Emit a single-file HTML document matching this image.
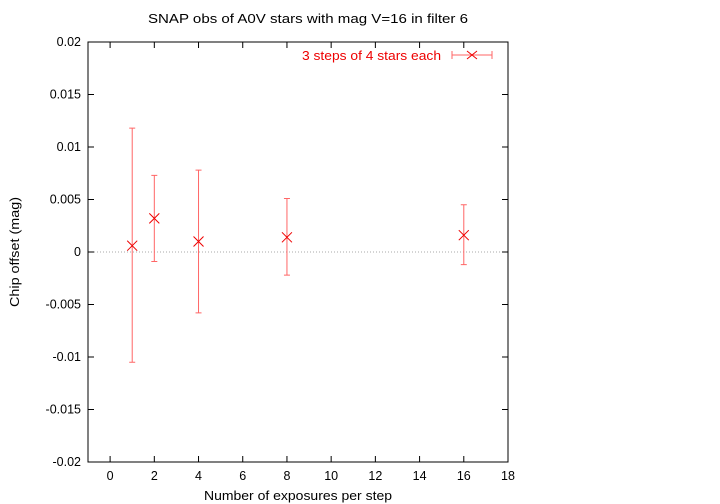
<!DOCTYPE html>
<html><head><meta charset="utf-8"><style>body{margin:0;background:#fff}svg{display:block;font-family:"Liberation Sans",sans-serif}</style></head>
<body>
<svg id="c" width="720" height="504">
<text x="308" y="23" font-size="12.5" text-anchor="middle" textLength="320" lengthAdjust="spacingAndGlyphs">SNAP obs of A0V stars with mag V=16 in filter 6</text>
<text x="298" y="500" font-size="12.5" text-anchor="middle" textLength="188" lengthAdjust="spacingAndGlyphs">Number of exposures per step</text>
<text transform="translate(19,252) rotate(-90)" font-size="12.5" text-anchor="middle" textLength="110" lengthAdjust="spacingAndGlyphs">Chip offset (mag)</text>
<g id="axes"></g><g id="marks"></g>
<rect x="88" y="42" width="420" height="420" fill="none" stroke="#000"/>
<g>
<text x="441" y="60" font-size="12.5" fill="#e00" text-anchor="end" textLength="139" lengthAdjust="spacingAndGlyphs">3 steps of 4 stars each</text>
<path d="M452 55H492M452 51V59M492 51V59" stroke="#f66" fill="none"/>
<path d="M467 51L477 59M467 59L477 51" stroke="#e00" fill="none"/>
</g>
</svg>
<script>
const xs=[1,2,4,8,16];
const ys=[0.0006,0.0032,0.001,0.0014,0.0016];
const yHi=[0.0118,0.0073,0.0078,0.0051,0.0045];
const yLo=[-0.0105,-0.0009,-0.0058,-0.0022,-0.0012];
const xTicks=[0,2,4,6,8,10,12,14,16,18];
const yTicks=[-0.02,-0.015,-0.01,-0.005,0,0.005,0.01,0.015,0.02];
const yLabels=["-0.02","-0.015","-0.01","-0.005","0","0.005","0.01","0.015","0.02"];
const X=v=>88+(v+1)*420/19, Y=v=>252-v*10500;
const NS="http://www.w3.org/2000/svg";
function mk(p,t,a){const e=document.createElementNS(NS,t);for(const k in a)e.setAttribute(k,a[k]);p.appendChild(e);return e;}
const ax=document.getElementById('axes'),mg=document.getElementById('marks');
mk(ax,'line',{x1:88,x2:508,y1:Y(0),y2:Y(0),stroke:'#aaa','stroke-dasharray':'1,2'});
xTicks.forEach(t=>{const x=X(t);
mk(ax,'path',{d:`M${x} 462v-6M${x} 42v6`,stroke:'#000'});
const e=mk(ax,'text',{x:x,y:480,'font-size':12.5,'text-anchor':'middle'});e.textContent=t;

});
yTicks.forEach((t,i)=>{const y=Y(t);
mk(ax,'path',{d:`M88 ${y}h6M508 ${y}h-6`,stroke:'#000'});
const e=mk(ax,'text',{x:81,y:y+4,'font-size':12.5,'text-anchor':'end'});e.textContent=yLabels[i];

});
xs.forEach((v,i)=>{const x=X(v),y=Y(ys[i]),t=Y(yHi[i]),b=Y(yLo[i]);
const g=mk(mg,'g',{});


mk(g,'path',{d:`M${x} ${t}V${b}M${x-3} ${t}h6M${x-3} ${b}h6`,stroke:'#f66',fill:'none'});
mk(g,'path',{d:`M${x-5} ${y-5}l10 10M${x-5} ${y+5}l10 -10`,stroke:'#e00',fill:'none'});});
</script>
</body></html>
